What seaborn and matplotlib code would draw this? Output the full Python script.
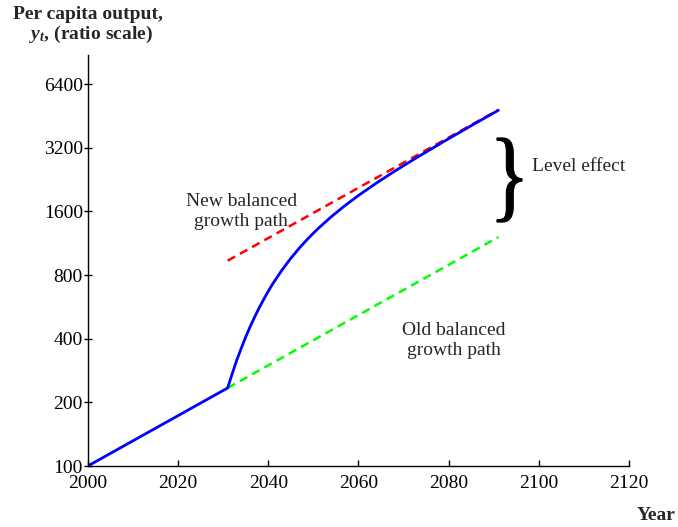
import matplotlib
matplotlib.use("Agg")
import matplotlib.pyplot as plt
import seaborn as sns
from matplotlib.textpath import TextPath
from matplotlib.patches import PathPatch
from matplotlib.font_manager import FontProperties
from matplotlib.transforms import Affine2D, IdentityTransform

# Actual per capita output (ratio scale), before and after the shock in 2031
years_actual = [2000, 2031, 2032, 2033, 2034, 2035, 2036, 2037, 2038, 2039,
                2040, 2041, 2043, 2045, 2047, 2049, 2051, 2054, 2057, 2060,
                2064, 2068, 2073, 2079, 2085, 2091]
output_actual = [100, 234, 273, 316, 360, 408, 457, 508, 561, 615,
                 671, 728, 843, 961, 1081, 1203, 1326, 1513, 1706, 1905,
                 2183, 2480, 2886, 3437, 4074, 4817]

# Balanced growth paths
years_path = [2031, 2091]
output_old_path = [234, 1210]
output_new_path = [936, 4840]

y_ticks = [100, 200, 400, 800, 1600, 3200, 6400]
x_ticks = [2000, 2020, 2040, 2060, 2080, 2100, 2120]

sns.set_style("ticks")
plt.rcParams["font.family"] = ["Liberation Serif", "DejaVu Serif"]
plt.rcParams["mathtext.fontset"] = "custom"
plt.rcParams["mathtext.it"] = "Liberation Serif:italic:bold"
plt.rcParams["mathtext.rm"] = "Liberation Serif:bold"

fig = plt.figure(figsize=(6.78, 5.27), dpi=100)
ax = fig.add_axes([0.1295, 0.1157, 0.7985, 0.78])

sns.lineplot(x=years_path, y=output_old_path, ax=ax, color="#00ff00",
             linewidth=1.8, linestyle=(0, (3.4, 2.2)))
sns.lineplot(x=years_path, y=output_new_path, ax=ax, color="#ff0000",
             linewidth=1.8, linestyle=(0, (3.4, 2.2)))
sns.lineplot(x=years_actual, y=output_actual, ax=ax, color="#0000ff",
             linewidth=2.0)

ax.set_yscale("log", base=2)
ax.set_ylim(100, 8800)
ax.set_xlim(2000, 2120)
ax.yaxis.set_minor_locator(matplotlib.ticker.NullLocator())
ax.set_yticks(y_ticks)
ax.set_yticklabels([str(v) for v in y_ticks])
ax.set_xticks(x_ticks)
ax.set_xticklabels([str(v) for v in x_ticks])
ax.set_xlabel("")
ax.set_ylabel("")

for side in ("top", "right"):
    ax.spines[side].set_visible(False)
for side in ("left", "bottom"):
    ax.spines[side].set_linewidth(1.0)
    ax.spines[side].set_color("black")

ax.tick_params(axis="y", direction="inout", length=6, width=1.0,
               labelsize=14, pad=0.5, colors="black")
ax.tick_params(axis="x", direction="in", length=4.5, width=1.0,
               labelsize=14, pad=6.5, colors="black")

# Annotations
ax.text(2034.0, 1600, "New balanced\ngrowth path", ha="center", va="center",
        fontsize=14, linespacing=1.2)
ax.text(2081.2, 392, "Old balanced\ngrowth path", ha="center", va="center",
        fontsize=14, linespacing=1.25)
ax.text(2098.5, 2600, "Level effect", ha="left", va="center", fontsize=14)

# Tall curly brace spanning the gap between the two paths (pixel box)
brace = TextPath((0, 0), "}", size=1,
                 prop=FontProperties(family="Liberation Serif"))
ext = brace.get_extents()
box_left, box_bottom, box_w, box_h = 497, 527 - 222, 25, 84
brace_tf = (Affine2D()
            .translate(-ext.x0, -ext.y0)
            .scale(box_w / ext.width, box_h / ext.height)
            .translate(box_left, box_bottom))
fig.add_artist(PathPatch(brace_tf.transform_path(brace),
                         transform=IdentityTransform(),
                         facecolor="black", edgecolor="black", linewidth=0.9))

# Axis titles
fig.text(0.1298, 0.972, "Per capita output,", ha="center", va="center",
         fontsize=14, fontweight="bold")
fig.text(0.1345, 0.935, r"$y_t$, (ratio scale)", ha="center", va="center",
         fontsize=14, fontweight="bold")
fig.text(0.9675, 0.021, "Year", ha="center", va="center",
         fontsize=14, fontweight="bold")

fig.savefig("out.png", dpi=100)
